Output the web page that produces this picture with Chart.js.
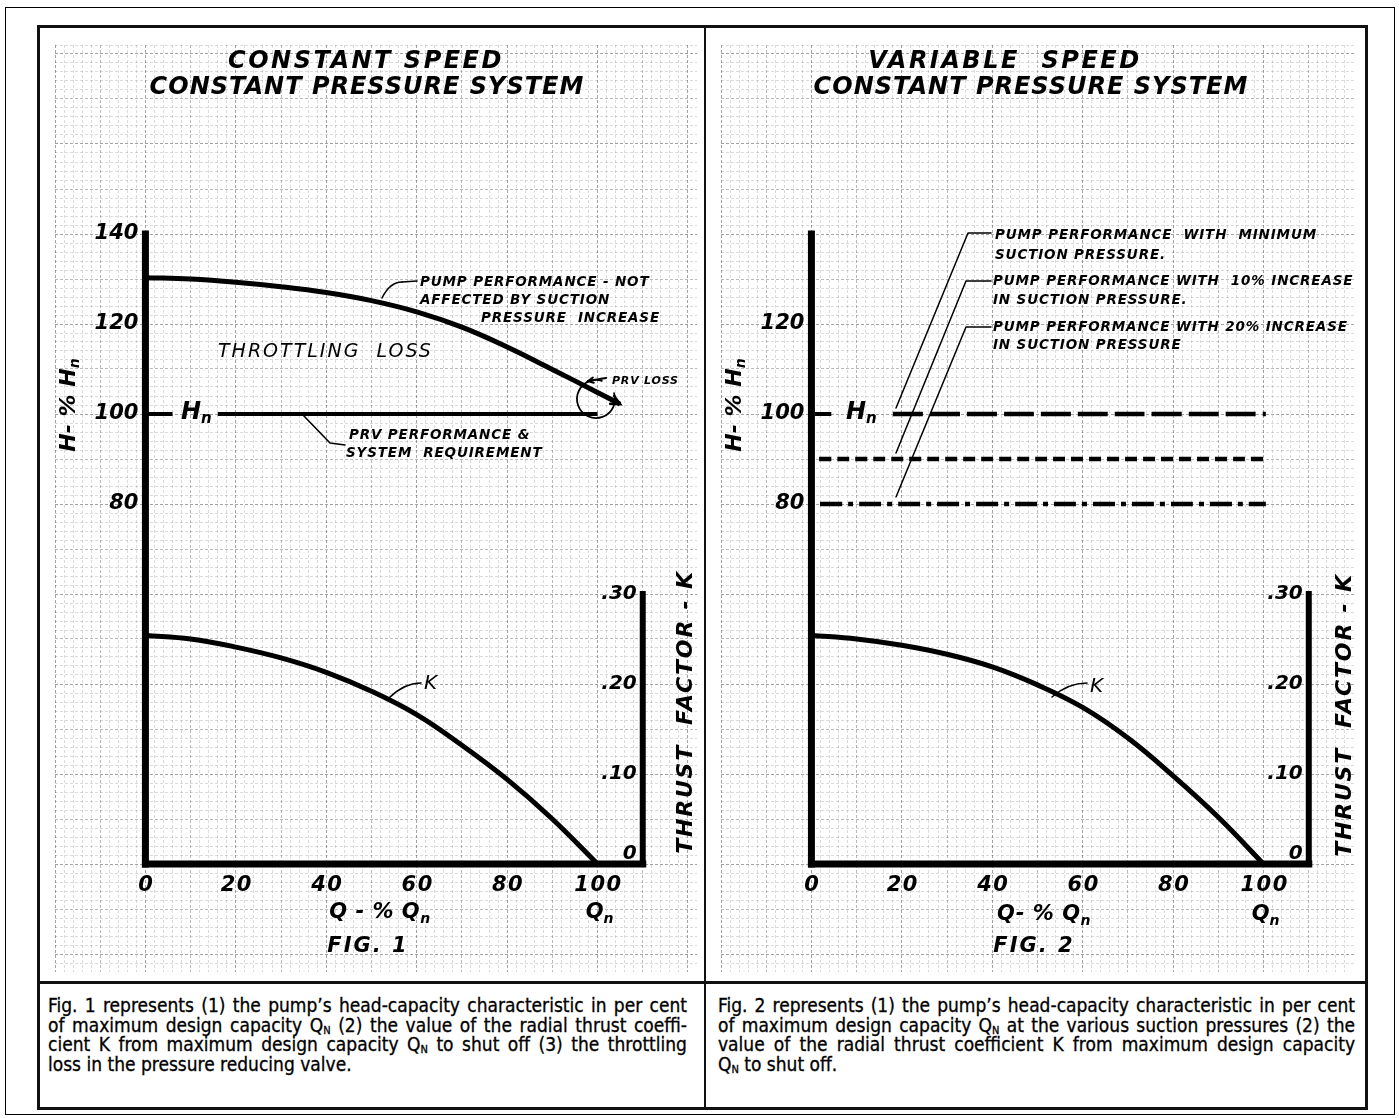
<!DOCTYPE html>
<html><head><meta charset="utf-8">
<script src="https://cdn.jsdelivr.net/npm/chart.js@4.4.1/dist/chart.umd.min.js"></script>
<style>
html,body{margin:0;padding:0;background:#fff;}
body{width:1399px;height:1118px;position:relative;overflow:hidden;}
.abs{position:absolute;box-sizing:border-box;}
#outer{left:5px;top:7px;width:1390px;height:1108px;border:1.5px solid #000;}
#inner{left:37px;top:25px;width:1331px;height:1085px;border:3px solid #111;}
#vdiv{left:704px;top:25px;width:2px;height:1085px;background:#111;}
#hdiv{left:37px;top:981px;width:1331px;height:3px;background:#111;}
canvas{position:absolute;}
.cap{position:absolute;font-family:"Liberation Sans Narrow","Arial Narrow","DejaVu Sans Condensed",sans-serif;font-size:19px;line-height:19.5px;color:#000;-webkit-text-stroke:0.3px #000;}
.cap div{white-space:nowrap;transform-origin:0 50%;}
.cap sub{font-size:11px;vertical-align:-2px;line-height:0;}
</style></head><body>
<div id="outer" class="abs"></div>
<div id="inner" class="abs"></div>
<div id="vdiv" class="abs"></div>
<div id="hdiv" class="abs"></div>
<canvas id="fig1" width="642" height="927" style="left:55px;top:45px"></canvas>
<canvas id="fig2" width="633" height="927" style="left:721px;top:45px"></canvas>

<div class="cap" style="left:48px;top:996px;width:639px">
<div class="j">Fig. 1 represents (1) the pump’s head-capacity characteristic in per cent</div>
<div class="j">of maximum design capacity Q<sub>N</sub> (2) the value of the radial thrust coeffi-</div>
<div class="j">cient K from maximum design capacity Q<sub>N</sub> to shut off (3) the throttling</div>
<div>loss in the pressure reducing valve.</div>
</div>
<div class="cap" style="left:718px;top:996px;width:637px">
<div class="j">Fig. 2 represents (1) the pump’s head-capacity characteristic in per cent</div>
<div class="j">of maximum design capacity Q<sub>N</sub> at the various suction pressures (2) the</div>
<div class="j">value of the radial thrust coefficient K from maximum design capacity</div>
<div>Q<sub>N</sub> to shut off.</div>
</div>

<script>
// ---------------- data ----------------
const capacityPct = [0,10,20,30,40,50,60,70,80,90,100];
const fig1ThrustK = [0.254,0.250,0.241,0.229,0.213,0.192,0.166,0.132,0.094,0.050,0];
const fig2ThrustK = [0.254,0.250,0.243,0.233,0.219,0.199,0.174,0.140,0.098,0.052,0];
const fig1PumpCapacity = [0,10,20,30,40,50,60,70,80,90,100,105];
const fig1PumpHead = [130.3,130.0,129.3,128.3,127.0,125.2,122.7,119.3,114.9,109.9,104.8,102.2];
const xTickValues = [0,20,40,60,80,100];
const fig1HeadTicks = [80,100,120,140];
const fig2HeadTicks = [80,100,120];
const kTickValues = [0,0.10,0.20,0.30];
const kTickLabels = ['0','.10','.20','.30'];
const designHead = 100;        // Hn : PRV performance & system requirement
const headMinSuction = 100;    // pump performance with minimum suction pressure
const headPlus10 = 90;         // with 10% increase in suction pressure
const headPlus20 = 80;         // with 20% increase in suction pressure
const fig1HnStub = [0,6];
const fig1HnSpan = [16,100];
const fig2HnStub = [0.8,4.4];
const fig2MinSuctionSpan = [18,100.5];
const fig2Plus10Span = [1.7,100.5];
const fig2Plus20Span = [1.9,100.5];
const headAxisTop = 140;
const capacityAxisEnd = 110;
const kAxisTop = 0.30;
const kPerHead = 1/200;

// ---------------- helpers ----------------
const INK = '#000';
function pts(xs, ys){ return xs.map((x,i)=>({x, y:ys[i]})); }
function flat(span, y){ return [{x:span[0],y},{x:span[1],y}]; }
function font(o){ return `${o.style||'italic'} ${o.weight||'bold'} ${o.size}px "DejaVu Sans"`; }
function txt(ctx, s, x, y, o){
  ctx.save();
  ctx.font = font(o);
  ctx.letterSpacing = (o.ls||0)+'px';
  ctx.textAlign = o.align||'left'; ctx.textBaseline='middle'; ctx.fillStyle=INK;
  ctx.translate(x,y); if(o.rot) ctx.rotate(o.rot);
  ctx.fillText(s,0,0);
  ctx.restore();
}
// runs: [[text, size, dy]]
function runs(ctx, parts, x, y, o){
  ctx.save();
  ctx.textBaseline='middle'; ctx.fillStyle=INK; ctx.textAlign='left';
  ctx.letterSpacing=(o.ls||0)+'px';
  let widths = parts.map(p=>{ ctx.font=font({...o,size:p[1]}); return ctx.measureText(p[0]).width; });
  const total = widths.reduce((a,b)=>a+b,0);
  let sx = o.align==='center' ? -total/2 : (o.align==='right' ? -total : 0);
  ctx.translate(x,y); if(o.rot) ctx.rotate(o.rot);
  parts.forEach((p,i)=>{ ctx.font=font({...o,size:p[1]}); ctx.fillText(p[0], sx, p[2]||0); sx+=widths[i]; });
  ctx.restore();
}
function poly(ctx, p, w){
  ctx.save(); ctx.strokeStyle=INK; ctx.lineWidth=w||1.6; ctx.lineCap='round'; ctx.lineJoin='round';
  ctx.beginPath(); ctx.moveTo(p[0][0],p[0][1]); for(let i=1;i<p.length;i++) ctx.lineTo(p[i][0],p[i][1]); ctx.stroke(); ctx.restore();
}
function curve(ctx, a, c, b, w){
  ctx.save(); ctx.strokeStyle=INK; ctx.lineWidth=w||1.6; ctx.lineCap='round';
  ctx.beginPath(); ctx.moveTo(a[0],a[1]); ctx.quadraticCurveTo(c[0],c[1],b[0],b[1]); ctx.stroke(); ctx.restore();
}
function arrowHead(ctx, from, to, len, w){
  const ang = Math.atan2(to[1]-from[1], to[0]-from[0]);
  ctx.save(); ctx.strokeStyle=INK; ctx.lineWidth=w||2.5; ctx.lineCap='round';
  ctx.beginPath();
  ctx.moveTo(to[0]-len*Math.cos(ang-0.45), to[1]-len*Math.sin(ang-0.45));
  ctx.lineTo(to[0],to[1]);
  ctx.lineTo(to[0]-len*Math.cos(ang+0.45), to[1]-len*Math.sin(ang+0.45));
  ctx.stroke(); ctx.restore();
}

function gridColor(c){
  const v = c.tick.value;
  if (Math.abs(v % 20) < 1e-6) return 'rgba(0,0,0,0.36)';
  return Math.abs(v % 10) < 1e-6 ? 'rgba(0,0,0,0.27)' : 'rgba(0,0,0,0.14)';
}
function scalesFor(xMax){
  const yMin=-24, yMax=182;
  return {
    x:{type:'linear',min:-20,max:xMax,ticks:{display:false,stepSize:2},
       grid:{color:gridColor,lineWidth:1,drawTicks:false},border:{display:false,dash:[3,2]}},
    y:{type:'linear',min:yMin,max:yMax,ticks:{display:false,stepSize:2},
       grid:{color:gridColor,lineWidth:1,drawTicks:false},border:{display:false,dash:[3,2]}},
    k:{type:'linear',display:false,position:'right',min:yMin*kPerHead,max:yMax*kPerHead}
  };
}
function line(data, w, extra){
  return Object.assign({data, borderColor:INK, borderWidth:w, pointRadius:0, fill:false,
    tension:0.4, borderCapStyle:'butt', borderJoinStyle:'round'}, extra||{});
}
function axisSets(){
  return [
    line([{x:0,y:0},{x:0,y:headAxisTop}], 7, {borderCapStyle:'square',tension:0}),
    line([{x:0,y:0},{x:capacityAxisEnd,y:0}], 7, {borderCapStyle:'square',tension:0}),
    line([{x:capacityAxisEnd,y:0},{x:capacityAxisEnd,y:kAxisTop}], 6, {yAxisID:'k',borderCapStyle:'square',tension:0})
  ];
}
function commonTicks(ctx, chart, ox, oy, headTicks){
  const X=v=>chart.scales.x.getPixelForValue(v)+ox;
  const Y=v=>chart.scales.y.getPixelForValue(v)+oy;
  const K=v=>chart.scales.k.getPixelForValue(v)+oy;
  headTicks.forEach(v=>txt(ctx, String(v), X(0)-7, Y(v), {size:21,align:'right'}));
  xTickValues.forEach(v=>txt(ctx, String(v), X(v)+1, Y(0)+22, {size:21,align:'center',ls:1.5}));
  kTickValues.forEach((v,i)=>txt(ctx, kTickLabels[i], X(capacityAxisEnd)-6, K(v)-(v===0?10:0), {size:20,align:'right'}));
  return {X,Y,K};
}
const NOTE = {size:13.5, ls:0.85};

// ---------------- figure 1 ----------------
const ox1=55, oy1=45;
const fig1Notes = {
  id:'fig1Notes',
  afterDatasetsDraw(chart){
    const ctx=chart.ctx; ctx.save(); ctx.translate(-ox1,-oy1);
    const {X,Y}=commonTicks(ctx, chart, ox1, oy1, fig1HeadTicks);
    txt(ctx,'CONSTANT SPEED',366,62,{size:24,align:'center',ls:2.5});
    txt(ctx,'CONSTANT PRESSURE SYSTEM',367,88,{size:24,align:'center',ls:1});
    runs(ctx,[['Q',21],['n',14,6]],X(100)+2,913,{align:'center'});
    runs(ctx,[['Q - % Q',21],['n',14,6]],380,913,{align:'center',ls:0.5});
    txt(ctx,'FIG. 1',368,947,{size:21,align:'center',ls:2});
    txt(ctx,'THRUST  FACTOR - K',686,712,{size:22,align:'center',ls:1.8,rot:-Math.PI/2});
    runs(ctx,[['H- % H',22],['n',14,6]],69,405,{align:'center',rot:-Math.PI/2});
    runs(ctx,[['H',24],['n',15,6]],181,413,{});
    txt(ctx,'THROTTLING  LOSS',218,352,{size:19,weight:'normal',ls:2});
    txt(ctx,'PUMP PERFORMANCE - NOT',420,282,NOTE);
    txt(ctx,'AFFECTED BY SUCTION',420,300,NOTE);
    txt(ctx,'PRESSURE  INCREASE',481,318,NOTE);
    txt(ctx,'PRV LOSS',612,381,{size:11,ls:0.8});
    txt(ctx,'PRV PERFORMANCE &',349,435,NOTE);
    txt(ctx,'SYSTEM  REQUIREMENT',346,453,NOTE);
    txt(ctx,'K',424,684,{size:20,weight:'normal'});
    curve(ctx,[382,298],[390,282],[402,282]); poly(ctx,[[402,282],[417,281]]);
    poly(ctx,[[303,415],[330,443],[345,445]]);
    curve(ctx,[389,698],[404,683],[421,683]);
    // PRV loss circle and pointer
    ctx.save(); ctx.strokeStyle=INK; ctx.lineWidth=1.8; ctx.beginPath();
    ctx.arc(596,399,19,-20*Math.PI/180,290*Math.PI/180); ctx.stroke(); ctx.restore();
    poly(ctx,[[606,378],[588,381]],2.2); arrowHead(ctx,[606,378],[588,381],6,2);
    // arrow at end of pump curve
    const m=chart.getDatasetMeta(3).data; const n=m.length;
    arrowHead(ctx,[m[n-2].x+ox1,m[n-2].y+oy1],[m[n-1].x+ox1,m[n-1].y+oy1],10,2.5);
    ctx.restore();
  }
};
new Chart(document.getElementById('fig1'),{
  type:'line',
  data:{datasets:[
    ...axisSets(),
    line(pts(fig1PumpCapacity, fig1PumpHead), 5),
    line(flat(fig1HnStub, designHead), 4),
    line(flat(fig1HnSpan, designHead), 4),
    line(pts(capacityPct, fig1ThrustK), 5, {yAxisID:'k'})
  ]},
  options:{responsive:false,animation:false,devicePixelRatio:1,
    layout:{padding:0},
    plugins:{legend:{display:false},tooltip:{enabled:false}},
    scales:scalesFor(122)},
  plugins:[fig1Notes]
});

// ---------------- figure 2 ----------------
const ox2=721, oy2=45;
const fig2Notes = {
  id:'fig2Notes',
  afterDatasetsDraw(chart){
    const ctx=chart.ctx; ctx.save(); ctx.translate(-ox2,-oy2);
    const {X,Y}=commonTicks(ctx, chart, ox2, oy2, fig2HeadTicks);
    txt(ctx,'VARIABLE  SPEED',1005,62,{size:24,align:'center',ls:2.5});
    txt(ctx,'CONSTANT PRESSURE SYSTEM',1031,88,{size:24,align:'center',ls:1});
    runs(ctx,[['Q',21],['n',14,6]],X(100)+2,915,{align:'center'});
    runs(ctx,[['Q- % Q',21],['n',14,6]],1044,915,{align:'center',ls:0.5});
    txt(ctx,'FIG. 2',1034,947,{size:21,align:'center',ls:2});
    txt(ctx,'THRUST  FACTOR - K',1345,715,{size:22,align:'center',ls:1.8,rot:-Math.PI/2});
    runs(ctx,[['H- % H',22],['n',14,6]],735,405,{align:'center',rot:-Math.PI/2});
    runs(ctx,[['H',24],['n',15,6]],846,413,{});
    txt(ctx,'PUMP PERFORMANCE  WITH  MINIMUM',995,235,NOTE);
    txt(ctx,'SUCTION PRESSURE.',995,255,NOTE);
    txt(ctx,'PUMP PERFORMANCE WITH  10% INCREASE',993,281,NOTE);
    txt(ctx,'IN SUCTION PRESSURE.',993,300,NOTE);
    txt(ctx,'PUMP PERFORMANCE WITH 20% INCREASE',993,327,NOTE);
    txt(ctx,'IN SUCTION PRESSURE',993,345,NOTE);
    poly(ctx,[[991,233],[968,233],[896,408]],1.5);
    poly(ctx,[[991,281],[966,281],[896,453]],1.5);
    poly(ctx,[[991,327],[966,327],[896,497]],1.5);
    txt(ctx,'K',1090,687,{size:20,weight:'normal'});
    curve(ctx,[1052,697],[1068,683],[1087,683]);
    ctx.restore();
  }
};
new Chart(document.getElementById('fig2'),{
  type:'line',
  data:{datasets:[
    ...axisSets(),
    line(flat(fig2HnStub, headMinSuction), 4),
    line(flat(fig2MinSuctionSpan, headMinSuction), 4.5, {borderDash:[30,7]}),
    line(flat(fig2Plus10Span, headPlus10), 4.5, {borderDash:[12,6]}),
    line(flat(fig2Plus20Span, headPlus20), 4.5, {borderDash:[22,6,5,6]}),
    line(pts(capacityPct, fig2ThrustK), 5, {yAxisID:'k'})
  ]},
  options:{responsive:false,animation:false,devicePixelRatio:1,
    layout:{padding:0},
    plugins:{legend:{display:false},tooltip:{enabled:false}},
    scales:scalesFor(120)},
  plugins:[fig2Notes]
});

// ---------------- caption justification ----------------
document.querySelectorAll('.cap').forEach(cap=>{
  const W = parseFloat(cap.style.width);
  cap.querySelectorAll('div').forEach(d=>{
    const span=document.createElement('span'); span.innerHTML=d.innerHTML; d.innerHTML=''; d.appendChild(span);
    const nat = span.getBoundingClientRect().width;
    if(nat > W){ d.style.transform=`scaleX(${W/nat})`; return; }
    if(d.classList.contains('j')){
      const spaces = (span.textContent.match(/ /g)||[]).length;
      if(spaces) d.style.wordSpacing = ((W-nat)/spaces)+'px';
    }
  });
});
</script>
</body></html>
